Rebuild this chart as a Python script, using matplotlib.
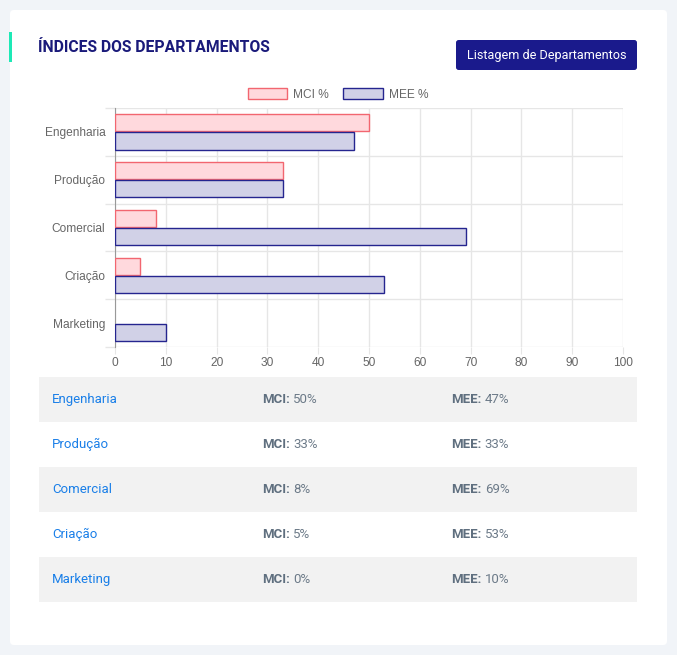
import matplotlib.pyplot as plt
from matplotlib.patches import Rectangle, FancyBboxPatch
import numpy as np

plt.rcParams['font.family'] = ['Roboto', 'DejaVu Sans']

# data
departments = ['Engenharia', 'Produção', 'Comercial', 'Criação', 'Marketing']
mci = [50, 33, 8, 5, 0]
mee = [47, 33, 69, 53, 10]
x_ticks = [0, 10, 20, 30, 40, 50, 60, 70, 80, 90, 100]

W, H = 677, 655
fig = plt.figure(figsize=(W / 100, H / 100), dpi=100)
fig.patch.set_facecolor('#f1f4f8')


def fx(px):
    return px / W


def fy(py):
    return 1 - py / H


# card background
fig.patches.append(FancyBboxPatch((fx(10), fy(645)), fx(657), (645 - 10) / H,
                                  boxstyle='round,pad=0,rounding_size=0.006',
                                  transform=fig.transFigure, facecolor='white',
                                  edgecolor='none', zorder=0))
# green accent
fig.patches.append(Rectangle((fx(9), fy(62)), fx(3), 30 / H, transform=fig.transFigure,
                             facecolor='#1de9b6', edgecolor='none', zorder=1))

# title
fig.text(fx(38), fy(48), 'ÍNDICES DOS DEPARTAMENTOS', fontsize=11.3, fontweight='bold',
         color='#1a1a7a', va='center', ha='left')

# button
fig.patches.append(FancyBboxPatch((fx(456), fy(70)), fx(181), 30 / H,
                                  boxstyle='round,pad=0,rounding_size=0.004',
                                  transform=fig.transFigure, facecolor='#1a1a8c',
                                  edgecolor='none', zorder=1))
fig.text(fx(547), fy(55), 'Listagem de Departamentos', fontsize=9.1, color='white',
         ha='center', va='center')

# chart
chart_font = ['Liberation Sans', 'DejaVu Sans']
ax = fig.add_axes([fx(115), fy(347), fx(623 - 115), (347 - 108) / H])
ax.set_zorder(5)
ax.set_facecolor('white')
y = np.arange(len(departments))
h = 0.36
ax.barh(y - 0.19, mci, height=h, color='#ffd9dd', edgecolor='#f26670',
        linewidth=[1.0 if v else 0 for v in mci], label='MCI %', zorder=3)
ax.barh(y + 0.19, mee, height=h, color='#d1d1e7', edgecolor='#25258f',
        linewidth=[1.0 if v else 0 for v in mee], label='MEE %', zorder=3)
ax.set_xlim(0, 100)
ax.set_ylim(len(departments) - 0.5, -0.5)
ax.set_xticks(x_ticks)
ax.set_yticks(y)
ax.set_yticklabels(departments, family=chart_font)
ax.set_xticklabels([str(v) for v in x_ticks], family=chart_font)
ax.set_yticks(np.arange(len(departments) + 1) - 0.5, minor=True)
ax.tick_params(axis='y', which='major', length=0, pad=7, labelsize=8.6, labelcolor='#666666')
ax.tick_params(axis='y', which='minor', length=7.5, color='#e6e6e6', width=1)
ax.tick_params(axis='x', length=5, color='#e6e6e6', labelsize=8.6, labelcolor='#666666', pad=2)
ax.grid(axis='x', color='#e6e6e6', linewidth=1, zorder=0)
ax.grid(axis='y', which='minor', color='#e6e6e6', linewidth=1, zorder=0)
ax.set_axisbelow(True)
for s in ['top', 'right', 'bottom']:
    ax.spines[s].set_visible(False)
ax.spines['left'].set_color('#999999')
leg_x = (338 - 115) / (623 - 115)
leg = ax.legend(loc='lower center', bbox_to_anchor=(leg_x, 1.0), ncol=2, frameon=False,
                prop={'family': chart_font, 'size': 8.6}, labelcolor='#666666',
                handlelength=3.3, handleheight=1.0,
                columnspacing=1.2, handletextpad=0.5, borderaxespad=0.2)
for patch in leg.get_patches():
    patch.set_linewidth(1.0)

# table (overlay axes to chain label and value texts)
bg = fig.add_axes([0, 0, 1, 1], zorder=6)
bg.set_axis_off()
row_h = 45
top = 377
for i, dep in enumerate(departments):
    ry = top + i * row_h
    if i % 2 == 0:
        fig.patches.append(Rectangle((fx(39), fy(ry + row_h)), fx(598), row_h / H,
                                     transform=fig.transFigure, facecolor='#f2f2f2',
                                     edgecolor='none', zorder=1))
    cy = fy(ry + row_h / 2)
    bg.text(fx(52), cy, dep, fontsize=9.5, color='#1a7fe8', va='center',
            transform=fig.transFigure)
    for x0, lab, val in [(262, 'MCI:', mci[i]), (451, 'MEE:', mee[i])]:
        t = bg.text(fx(x0), cy, lab, fontsize=9.5, color='#5f6f7f', fontweight='bold',
                    va='center', transform=fig.transFigure)
        bg.annotate(f'{val}%', xy=(1, 0.5), xycoords=t, xytext=(2.5, 0),
                    textcoords='offset points', fontsize=9.5, color='#6c7a88',
                    va='center', ha='left')

fig.savefig('out.png', dpi=100, facecolor=fig.get_facecolor())
